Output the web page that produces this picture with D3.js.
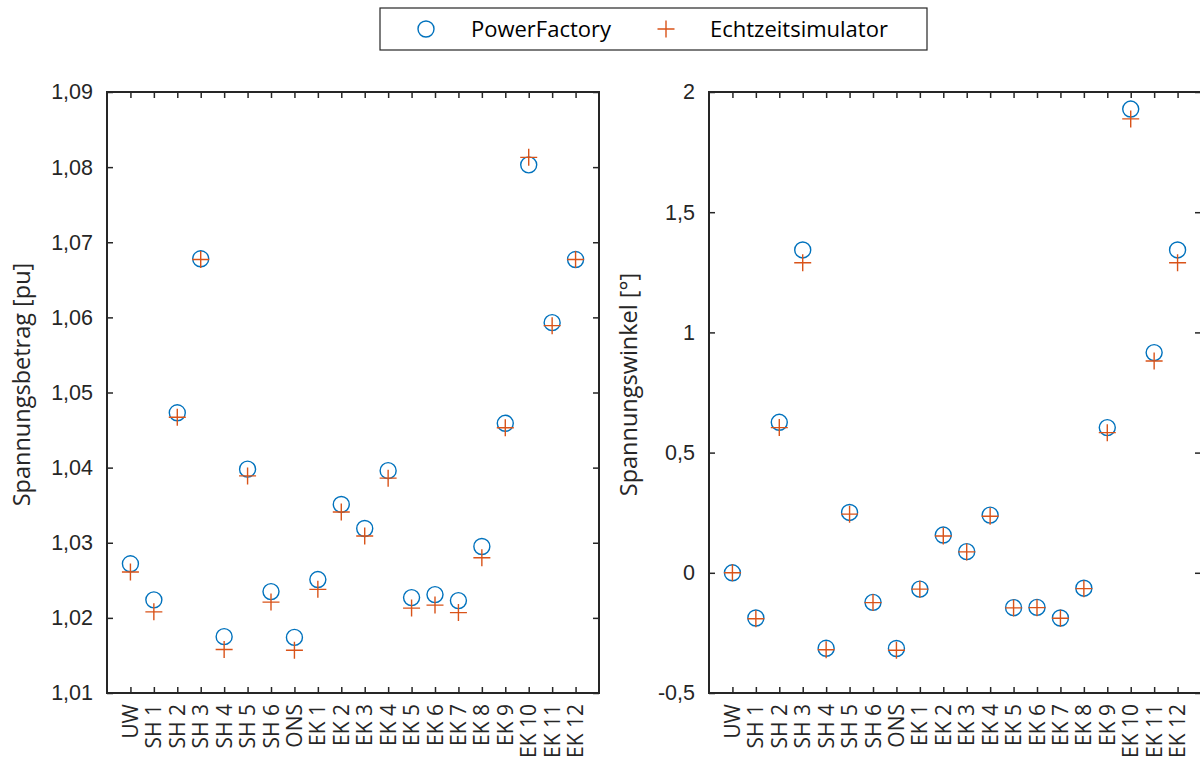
<!DOCTYPE html>
<html>
<head>
<meta charset="utf-8">
<script src="https://cdn.jsdelivr.net/npm/d3@7"></script>
<style>
  body { margin: 0; background: #fff; }
  svg { font-family: "Open Sans", Lato, sans-serif; }
</style>
</head>
<body>
<svg id="chart" width="1200" height="764"></svg>
<script>
var categories = ['UW', 'SH 1', 'SH 2', 'SH 3', 'SH 4', 'SH 5', 'SH 6', 'ONS',
    'EK 1', 'EK 2', 'EK 3', 'EK 4', 'EK 5', 'EK 6', 'EK 7', 'EK 8', 'EK 9', 'EK 10', 'EK 11', 'EK 12'];

// Spannungsbetrag [pu]
var betragPF = [1.0272, 1.0224, 1.0473, 1.0678, 1.0175, 1.0398, 1.0235, 1.0174,
    1.0251, 1.0351, 1.0319, 1.0396, 1.0227, 1.0231, 1.0223, 1.0295, 1.0459, 1.0803, 1.0593, 1.0677];
var betragRT = [1.0261, 1.0208, 1.0467, 1.0677, 1.0158, 1.0389, 1.0221, 1.0157,
    1.0238, 1.0341, 1.0309, 1.0386, 1.0213, 1.0217, 1.0207, 1.0280, 1.0453, 1.0813, 1.0589, 1.0677];

// Spannungswinkel [°]
var winkelPF = [0, -0.188, 0.626, 1.343, -0.314, 0.251, -0.123, -0.315,
    -0.068, 0.157, 0.088, 0.240, -0.145, -0.144, -0.188, -0.064, 0.604, 1.929, 0.916, 1.343];
var winkelRT = [0, -0.191, 0.604, 1.290, -0.320, 0.244, -0.124, -0.322,
    -0.068, 0.153, 0.087, 0.235, -0.146, -0.145, -0.189, -0.066, 0.583, 1.888, 0.881, 1.290];

var betragTicks = [1.01, 1.02, 1.03, 1.04, 1.05, 1.06, 1.07, 1.08, 1.09];
var winkelTicks = [-0.5, 0, 0.5, 1, 1.5, 2];

var seriesNames = ['PowerFactory', 'Echtzeitsimulator'];
var blue = '#0072BD', orange = '#D95319', ink = '#262626';

var svg = d3.select('#chart');
var fmt = function (v) { return String(v).replace('.', ','); };

function drawPanel(opts) {
    var x = d3.scaleLinear().domain([0, categories.length + 1]).range([opts.left, opts.right]);
    var y = d3.scaleLinear().domain(opts.domain).range([693, 92]);
    var g = svg.append('g');

    // inward ticks on all sides
    var tickLen = 6;
    g.append('g').attr('transform', 'translate(0,' + y.range()[0] + ')')
        .call(d3.axisBottom(x).tickValues(d3.range(1, categories.length + 1))
            .tickSize(-tickLen).tickFormat(''))
        .call(function (a) { a.select('.domain').remove(); });
    g.append('g').attr('transform', 'translate(0,' + y.range()[1] + ')')
        .call(d3.axisTop(x).tickValues(d3.range(1, categories.length + 1))
            .tickSize(-tickLen).tickFormat(''))
        .call(function (a) { a.select('.domain').remove(); });
    g.append('g').attr('transform', 'translate(' + opts.left + ',0)')
        .call(d3.axisLeft(y).tickValues(opts.ticks).tickSize(-tickLen).tickPadding(14).tickFormat(fmt))
        .call(function (a) {
            a.select('.domain').remove();
            a.selectAll('text').attr('font-size', 21.5).attr('fill', ink);
        });
    g.append('g').attr('transform', 'translate(' + opts.right + ',0)')
        .call(d3.axisRight(y).tickValues(opts.ticks).tickSize(-tickLen).tickFormat(''))
        .call(function (a) { a.select('.domain').remove(); });
    g.selectAll('.tick line').attr('stroke', ink).attr('stroke-width', 1.5);

    g.append('rect')
        .attr('x', opts.left).attr('y', y.range()[1])
        .attr('width', opts.right - opts.left).attr('height', y.range()[0] - y.range()[1])
        .attr('fill', 'none').attr('stroke', ink).attr('stroke-width', 2);

    // rotated category labels
    g.selectAll('.cat').data(categories).enter().append('text')
        .attr('class', 'cat')
        .attr('transform', function (d, i) { return 'translate(' + (x(i + 1) + 7.5) + ',704) rotate(-90)'; })
        .attr('text-anchor', 'end')
        .attr('font-size', 21).attr('fill', ink)
        .text(function (d) { return d; });

    g.append('text')
        .attr('transform', 'translate(' + opts.labelX + ',' + ((y.range()[0] + y.range()[1]) / 2 - 8) + ') rotate(-90)')
        .attr('text-anchor', 'middle').attr('font-size', 23.5).attr('fill', ink)
        .text(opts.label);

    g.selectAll('.pf').data(opts.pf).enter().append('circle')
        .attr('cx', function (d, i) { return x(i + 1); })
        .attr('cy', function (d) { return y(d); })
        .attr('r', 8).attr('fill', 'none').attr('stroke', blue).attr('stroke-width', 1.4);

    g.selectAll('.rt').data(opts.rt).enter().append('path')
        .attr('transform', function (d, i) { return 'translate(' + x(i + 1) + ',' + y(d) + ')'; })
        .attr('d', 'M-8.5,0H8.5M0,-8.5V8.5')
        .attr('stroke', orange).attr('stroke-width', 1.4).attr('fill', 'none');
}

drawPanel({ left: 107, right: 599, domain: [1.01, 1.09], ticks: betragTicks,
    pf: betragPF, rt: betragRT, label: 'Spannungsbetrag [pu]', labelX: 30 });
drawPanel({ left: 709, right: 1201, domain: [-0.5, 2], ticks: winkelTicks,
    pf: winkelPF, rt: winkelRT, label: 'Spannungswinkel [°]', labelX: 637 });

// legend
var legend = svg.append('g');
legend.append('rect').attr('x', 380).attr('y', 8).attr('width', 547).attr('height', 42)
    .attr('fill', '#fff').attr('stroke', ink).attr('stroke-width', 1.2);
legend.append('circle').attr('cx', 426).attr('cy', 29).attr('r', 8)
    .attr('fill', 'none').attr('stroke', blue).attr('stroke-width', 1.4);
legend.append('path').attr('transform', 'translate(666,29)').attr('d', 'M-8.5,0H8.5M0,-8.5V8.5')
    .attr('stroke', orange).attr('stroke-width', 1.4);
legend.selectAll('.lt').data(seriesNames).enter().append('text')
    .attr('x', function (d, i) { return i === 0 ? 471 : 710; })
    .attr('y', 37).attr('font-size', 22).attr('fill', '#000')
    .text(function (d) { return d; });
</script>
</body>
</html>
